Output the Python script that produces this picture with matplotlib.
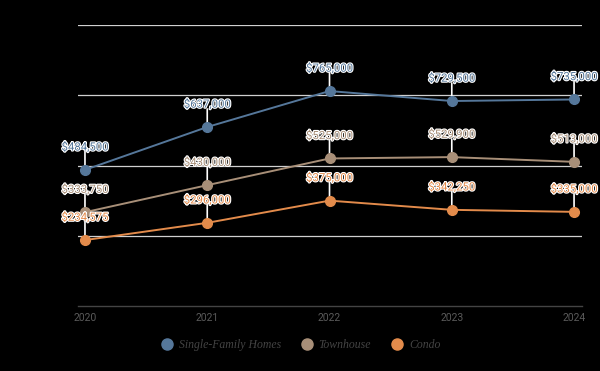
import matplotlib
matplotlib.use("Agg")
import matplotlib.pyplot as plt
import matplotlib.patheffects as pe
from matplotlib.lines import Line2D

years = [2020, 2021, 2022, 2023, 2024]
series_names = ["Single-Family Homes", "Townhouse", "Condo"]
single_family = [484500, 637000, 765000, 729500, 735000]
townhouse = [333750, 430000, 525000, 529900, 513000]
condo = [234575, 296000, 375000, 342250, 335000]
y_ticks = [0, 250000, 500000, 750000, 1000000]

colors = ["#55779a", "#a88f78", "#e38b4b"]
values = [single_family, townhouse, condo]

fig = plt.figure(figsize=(6, 3.71), dpi=100, facecolor="black")
ax = fig.add_axes([0.13, 0.1752, 0.84, 0.7574])
ax.set_facecolor("black")

ax.set_xlim(2019.943, 2024.065)
ax.set_ylim(0, 1000000)
ax.set_yticks(y_ticks)
ax.set_yticklabels([f"${v:,.0f}" for v in y_ticks], color="black", fontsize=8)
ax.set_xticks(years)
ax.set_xticklabels([str(y) for y in years], color="#5a5a5a", fontsize=7.5,
                   family=["Roboto", "DejaVu Sans"])
ax.tick_params(axis="both", length=0, pad=6)
ax.tick_params(axis="x", pad=5)
for s in ["top", "right", "left"]:
    ax.spines[s].set_visible(False)
ax.spines["bottom"].set_color("#444444")
ax.spines["bottom"].set_linewidth(1)
for v in y_ticks[1:]:
    ax.axhline(v, color="#d0d0d0", lw=0.9, zorder=0)

halo = [pe.withStroke(linewidth=1.6, foreground="white")]
for name, vals, c in zip(series_names, values, colors):
    ax.plot(years, vals, color=c, lw=1.4, marker="o", markersize=7, zorder=3, label=name)
    for x, v in zip(years, vals):
        ax.annotate("", xy=(x, v), xytext=(0, 13), textcoords="offset points",
                    arrowprops=dict(arrowstyle="-", color="white", lw=1.2,
                                    shrinkA=0, shrinkB=0), zorder=2)
        ax.annotate(f"${v:,.0f}", xy=(x, v), xytext=(0, 12.5), textcoords="offset points",
                    ha="center", va="bottom", color=c, fontsize=8.2,
                    family=["Roboto", "DejaVu Sans"],
                    path_effects=halo, zorder=5)

handles = [Line2D([0], [0], marker="o", color="none", markerfacecolor=c, markeredgecolor=c,
                  markersize=8) for c in colors]
fig.legend(handles, series_names, loc="center", bbox_to_anchor=(0.5, 0.07), ncol=3,
           frameon=False, handletextpad=0.4, columnspacing=1.6, handlelength=1.2,
           prop=dict(family="Liberation Serif", style="italic", size=8.5),
           labelcolor="#444444")

fig.savefig("out.png", dpi=100, facecolor="black")
